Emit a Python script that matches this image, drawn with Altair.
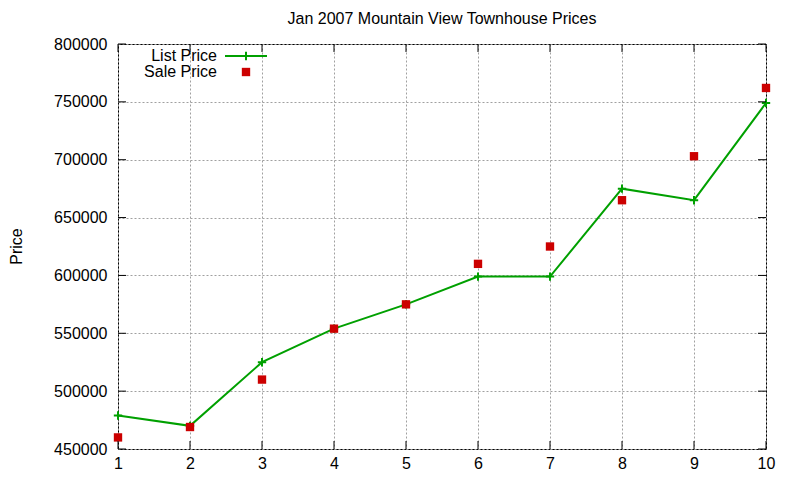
import altair as alt
import pandas as pd

points = [1, 2, 3, 4, 5, 6, 7, 8, 9, 10]
list_price = [479000, 470000, 525000, 554000, 575000, 599000, 599000, 675000, 665000, 749000]
sale_price = [460000, 469000, 510000, 554000, 575000, 610000, 625000, 665000, 703000, 762000]
y_ticks = [450000, 500000, 550000, 600000, 650000, 700000, 750000, 800000]
x_ticks = points
series_names = ["List Price", "Sale Price"]

W, H = 648, 405
FONT = "Liberation Sans"
GREEN = "#00a000"
RED = "#cc0000"

df = pd.DataFrame({"x": points, "list": list_price, "sale": sale_price})
yt = pd.DataFrame({"v": y_ticks})
xt = pd.DataFrame({"t": x_ticks})
lg = pd.DataFrame({"name": series_names})

xscale = alt.Scale(domain=[1, 10], nice=False, zero=False)
yscale = alt.Scale(domain=[450000, 800000], nice=False, zero=False)

xaxis = alt.Axis(values=x_ticks, format="d", grid=True, gridColor="#a0a0a0", gridDash=[2, 2],
                 gridWidth=1, tickSize=0, domain=False, labelFontSize=16, labelFont=FONT,
                 labelColor="black", labelPadding=6, title=None, labelFlush=False)
yaxis = alt.Axis(values=y_ticks, format="d", grid=True, gridColor="#a0a0a0", gridDash=[2, 2],
                 gridWidth=1, tickSize=0, domain=False, labelFontSize=16, labelFont=FONT,
                 labelColor="black", labelPadding=11, title="Price", titleFontSize=16,
                 titleFont=FONT, titleFontWeight="normal", titleColor="black",
                 titleX=-97, titleY=202, titleAngle=270, titleAlign="center",
                 titleBaseline="alphabetic")


def X(field):
    return alt.X(field, scale=xscale, axis=xaxis, title=None)


def Y(field):
    return alt.Y(field, scale=yscale, axis=yaxis, title="Price")


base = alt.Chart(df)

line = base.mark_line(color=GREEN, strokeWidth=2).encode(x=X("x:Q"), y=Y("list:Q"))
plus_path = "M-1,0L1,0M0,-1L0,1"
pluses = base.mark_point(shape=plus_path, size=70, color=GREEN, strokeWidth=2, filled=False,
                         opacity=1).encode(x=X("x:Q"), y=Y("list:Q"))
squares = base.mark_square(size=70, color=RED, opacity=1).encode(x=X("x:Q"), y=Y("sale:Q"))

TL = 8
ytl = alt.Chart(yt).mark_rule(color="black", strokeWidth=1).encode(
    y=Y("v:Q"), x=alt.value(0), x2=alt.value(TL))
ytr = alt.Chart(yt).mark_rule(color="black", strokeWidth=1).encode(
    y=Y("v:Q"), x=alt.value(W - TL), x2=alt.value(W))
xtb = alt.Chart(xt).mark_rule(color="black", strokeWidth=1).encode(
    x=X("t:Q"), y=alt.value(H), y2=alt.value(H - TL))
xtt = alt.Chart(xt).mark_rule(color="black", strokeWidth=1).encode(
    x=X("t:Q"), y=alt.value(0), y2=alt.value(TL))

lg_list = alt.Chart(lg).transform_filter(alt.datum.name == series_names[0])
lg_sale = alt.Chart(lg).transform_filter(alt.datum.name == series_names[1])
leg_t1 = lg_list.mark_text(align="right", baseline="middle", fontSize=16, font=FONT,
                           color="black").encode(text="name:N", x=alt.value(99), y=alt.value(12))
leg_t2 = lg_sale.mark_text(align="right", baseline="middle", fontSize=16, font=FONT,
                           color="black").encode(text="name:N", x=alt.value(99), y=alt.value(28))
leg_l = lg_list.mark_rule(color=GREEN, strokeWidth=2).encode(
    x=alt.value(107), x2=alt.value(149), y=alt.value(12))
leg_p = lg_list.mark_point(shape=plus_path, size=70, color=GREEN, strokeWidth=2, filled=False,
                           opacity=1).encode(x=alt.value(128), y=alt.value(12))
leg_s = lg_sale.mark_square(size=70, color=RED, opacity=1).encode(
    x=alt.value(128), y=alt.value(28))

chart = alt.layer(
    line, pluses, squares, ytl, ytr, xtb, xtt, leg_t1, leg_t2, leg_l, leg_p, leg_s
).properties(
    width=W, height=H,
    background="white",
    title=alt.TitleParams("Jan 2007 Mountain View Townhouse Prices", fontSize=16, font=FONT,
                          fontWeight="normal", color="black", anchor="middle", offset=9),
    autosize=alt.AutoSizeParams(type="none"),
    padding={"left": 110, "top": 36, "right": 24, "bottom": 24},
).configure_view(stroke="black", strokeWidth=1)

chart.save("out.html", embed_options={"renderer": "svg", "actions": False})
